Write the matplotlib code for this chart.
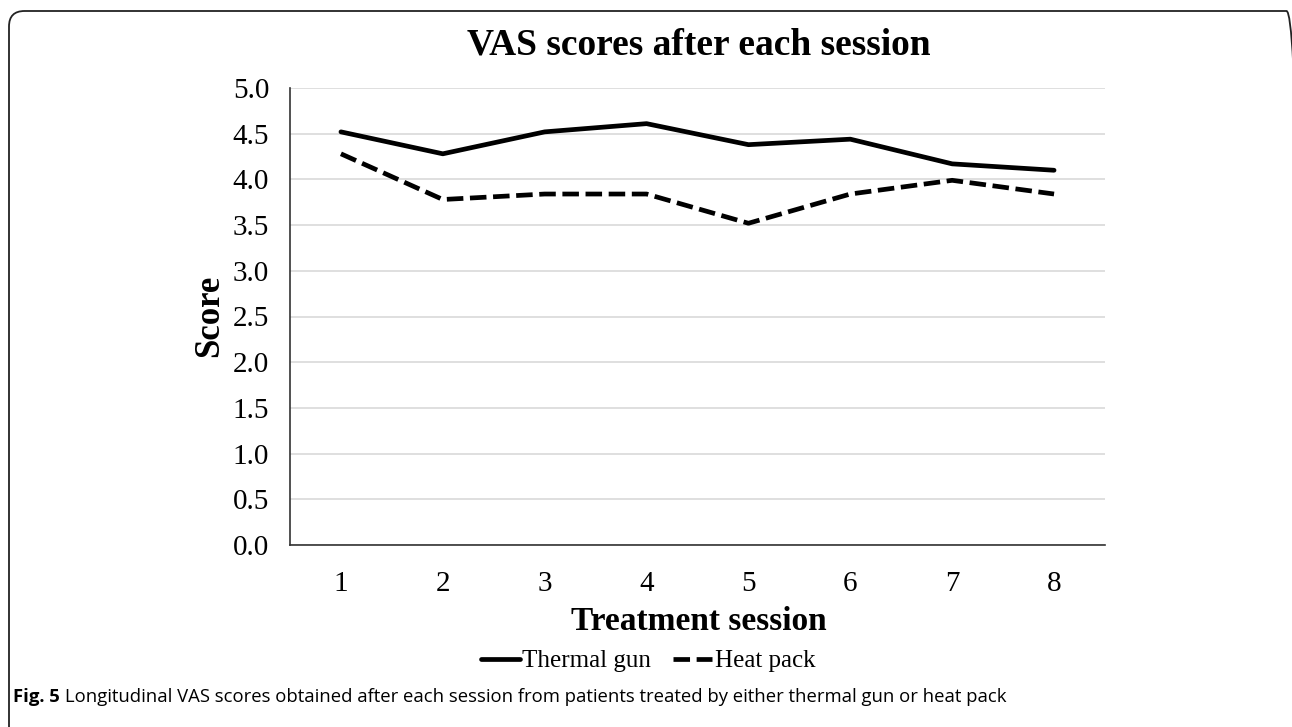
import matplotlib
matplotlib.use("Agg")
import matplotlib.pyplot as plt
from matplotlib.patches import FancyBboxPatch

sessions = ["1", "2", "3", "4", "5", "6", "7", "8"]
thermal_gun = [4.52, 4.28, 4.52, 4.61, 4.38, 4.44, 4.17, 4.10]
heat_pack = [4.28, 3.78, 3.84, 3.84, 3.52, 3.84, 3.99, 3.84]
yticks = [0.0, 0.5, 1.0, 1.5, 2.0, 2.5, 3.0, 3.5, 4.0, 4.5, 5.0]

W, H = 1292, 727
fig = plt.figure(figsize=(W / 100, H / 100), dpi=100)
serif = "Liberation Serif"

# outer rounded frame (bottom open, right edge clipped)
frame = FancyBboxPatch((9 / W, -0.2), (1302 - 9) / W, (H - 11) / H + 0.2,
                       boxstyle="round,pad=0,rounding_size=0.012",
                       transform=fig.transFigure, fill=False,
                       edgecolor="#222222", linewidth=1.3, mutation_aspect=W / H)
fig.patches.append(frame)

ax = fig.add_axes([290 / W, (H - 545) / H, (1105 - 290) / W, (545 - 88) / H])
x = list(range(len(sessions)))
ax.plot(x, thermal_gun, color="black", linewidth=3.4, solid_capstyle="round",
        solid_joinstyle="round", label="Thermal gun")
ax.plot(x, heat_pack, color="black", linewidth=3.4, linestyle=(0, (3.5, 1.4)),
        dash_capstyle="butt", label="Heat pack")

ax.set_xlim(-0.5, len(sessions) - 0.5)
ax.set_ylim(0, 5.0)
ax.set_yticks(yticks)
ax.set_yticklabels([f"{v:.1f}" for v in yticks], fontfamily=serif, fontsize=21)
ax.set_xticks(x)
ax.set_xticklabels(sessions, fontfamily=serif, fontsize=21)
ax.tick_params(axis="both", length=0)
ax.tick_params(axis="y", pad=15)
ax.tick_params(axis="x", pad=19)
ax.grid(axis="y", color="#d9d9d9", linewidth=1.2)
ax.set_axisbelow(True)
for s in ["top", "right"]:
    ax.spines[s].set_visible(False)
for s in ["left", "bottom"]:
    ax.spines[s].set_color("#333333")
    ax.spines[s].set_linewidth(1.2)

fig.text(699 / W, 1 - 45 / H, "VAS scores after each session",
         ha="center", va="center", fontfamily=serif, fontweight="bold", fontsize=27)
fig.text(210 / W, 1 - 316 / H, "Score", rotation=90, ha="center", va="center",
         fontfamily=serif, fontweight="bold", fontsize=25)
fig.text(699 / W, 1 - 622 / H, "Treatment session", ha="center", va="center",
         fontfamily=serif, fontweight="bold", fontsize=24)

leg = fig.legend(loc="center", bbox_to_anchor=(648 / W, 1 - 661 / H), ncol=2,
                 frameon=False, prop={"family": serif, "size": 18},
                 handlelength=1.55, handletextpad=0.1, columnspacing=0.9)

fig.text(13 / W, 1 - 697 / H, "Fig. 5", ha="left", va="center",
         fontfamily="Open Sans", fontweight="bold", fontsize=13.3)
fig.text(65 / W, 1 - 697 / H,
         "Longitudinal VAS scores obtained after each session from patients treated by either thermal gun or heat pack",
         ha="left", va="center", fontfamily="Open Sans", fontsize=13.3)

fig.savefig("out.png", dpi=100)
